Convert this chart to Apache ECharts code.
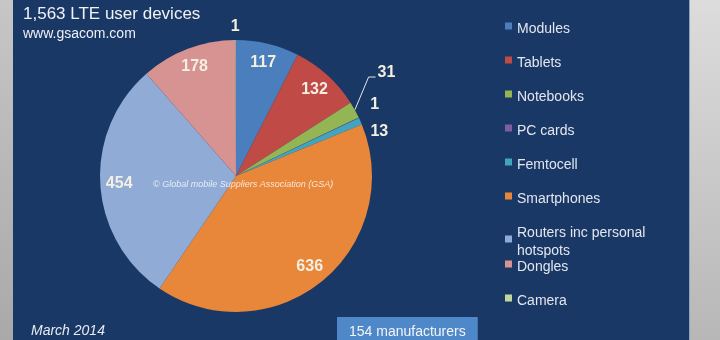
<!DOCTYPE html>
<html>
<head>
<meta charset="utf-8">
<script src="https://cdn.jsdelivr.net/npm/echarts@6/dist/echarts.min.js"></script>
<style>
html,body{margin:0;padding:0;}
body{width:720px;height:340px;overflow:hidden;position:relative;background:#1a3865;}
.side{position:absolute;top:0;height:340px;}
#leftBar{left:0;width:13px;background:linear-gradient(to bottom,#c6c6c6,#a9a9a9);}
#rightBar{left:689px;width:31px;background:linear-gradient(to bottom,#dcdcdc,#b7b7b7);border-left:1px solid #8ea0bd;box-sizing:border-box;}
#chart{position:absolute;left:0;top:0;width:720px;height:340px;}
</style>
</head>
<body>
<div id="leftBar" class="side"></div>
<div id="rightBar" class="side"></div>
<div id="chart"></div>
<script>
// ---- data ----
const categories = ['Modules', 'Tablets', 'Notebooks', 'PC cards', 'Femtocell', 'Smartphones', 'Routers inc personal hotspots', 'Dongles', 'Camera'];
const devices = [117, 132, 31, 1, 13, 636, 454, 178, 1];
const titleText = '1,563 LTE user devices';
const sourceText = 'www.gsacom.com';
const dateText = 'March 2014';
const makersText = '154 manufacturers';
const copyrightText = '\u00A9 Global mobile Suppliers Association (GSA)';

// ---- style ----
const palette = ['#4a7ebd', '#c04a46', '#93b553', '#7d5f9e', '#42a4bf', '#e8873a', '#90abd5', '#d69391', '#c3d69b'];
const outsideLabelNames = ['Notebooks', 'PC cards', 'Femtocell', 'Camera'];
const labelNudge = { 'Notebooks': [3, -32.5], 'PC cards': [6.5, -13], 'Femtocell': [5, 10.5], 'Camera': [9, -13] };
const legendSplit = 7; // first legend column holds this many entries
const FONT = "'Liberation Sans', Arial, sans-serif";
const labelColor = '#f3efe2';
const PIE_CENTER = [236, 176];
const PIE_R = 136;

const chart = echarts.init(document.getElementById('chart'), null, { renderer: 'canvas' });

const mainData = categories.map((n, i) => {
  const item = { name: n, value: devices[i], itemStyle: { color: palette[i] }, label: { show: outsideLabelNames.includes(n) } };
  if (n === 'Notebooks') item.labelLine = { show: true, length: 10, length2: 6 };
  return item;
});
const ringData = categories.map((n, i) => ({
  name: n, value: devices[i],
  itemStyle: { color: 'rgba(0,0,0,0)' },
  label: { show: !outsideLabelNames.includes(n) }
}));

const legendBase = {
  orient: 'vertical', left: 505, padding: 0, itemGap: 16,
  itemWidth: 7, itemHeight: 13,
  icon: 'path://M0,0H7V7H0Z M0,13L0.01,13Z',
  selectedMode: false,
  textStyle: { color: '#e2e6ee', fontSize: 14, lineHeight: 18, fontFamily: FONT },
  formatter: function (name) { return name === 'Routers inc personal hotspots' ? 'Routers inc personal\nhotspots' : name; }
};

const option = {
  animation: false,
  title: [
    { text: titleText, left: 23, top: 6, padding: 0, textStyle: { color: '#f0f2f5', fontSize: 17, fontWeight: 'normal', fontFamily: FONT } },
    { text: sourceText, left: 23, top: 27, padding: 0, textStyle: { color: '#eef0f4', fontSize: 14, fontWeight: 'normal', fontFamily: FONT } },
    { text: dateText, left: 31, top: 324, padding: 0, textStyle: { color: '#e8ebf0', fontSize: 14, fontStyle: 'italic', fontWeight: 'normal', fontFamily: FONT } },
    { text: makersText, left: 337, top: 317, padding: [8, 12, 8, 12], backgroundColor: '#4f88c9', textStyle: { color: '#f2f4f8', fontSize: 14, fontWeight: 'normal', fontFamily: FONT } },
    { text: copyrightText, left: 153, top: 180, padding: 0, z: 10, textStyle: { color: 'rgba(255,255,255,0.78)', fontSize: 9, fontStyle: 'italic', fontWeight: 'normal', fontFamily: FONT } }
  ],
  legend: [
    Object.assign({}, legendBase, { top: 20, data: categories.slice(0, legendSplit) }),
    Object.assign({}, legendBase, { top: 20 + 34 * legendSplit, data: categories.slice(legendSplit) })
  ],
  series: [
    {
      type: 'pie', name: 'LTE user devices', center: PIE_CENTER, radius: PIE_R,
      startAngle: 90, clockwise: true, avoidLabelOverlap: false, silent: true,
      emphasis: { disabled: true },
      label: { show: false, position: 'outside', formatter: '{c}', color: labelColor, fontSize: 16, fontWeight: 'bold', fontFamily: FONT },
      labelLine: { show: false, length: 0, length2: 0, lineStyle: { color: '#e3e7ee', width: 1 } },
      labelLayout: function (p) {
        const name = categories[p.dataIndex];
        const nudge = labelNudge[name];
        if (!nudge) return {};
        const out = { dx: nudge[0], dy: nudge[1] };
        if (name === 'Notebooks' && p.labelLinePoints) {
          const r = p.labelRect;
          const endX = r.x + nudge[0] - 2;
          const endY = r.y + r.height / 2 + nudge[1] + 4.5;
          out.labelLinePoints = [p.labelLinePoints[0], [endX - 7, endY], [endX, endY]];
        }
        return out;
      },
      data: mainData
    },
    {
      type: 'pie', name: 'labels', center: PIE_CENTER, radius: [92, PIE_R],
      startAngle: 90, clockwise: true, silent: true,
      emphasis: { disabled: true },
      label: { show: true, position: 'inside', formatter: '{c}', color: labelColor, fontSize: 16, fontWeight: 'bold', fontFamily: FONT },
      labelLine: { show: false },
      data: ringData
    }
  ]
};
chart.setOption(option);
</script>
</body>
</html>
